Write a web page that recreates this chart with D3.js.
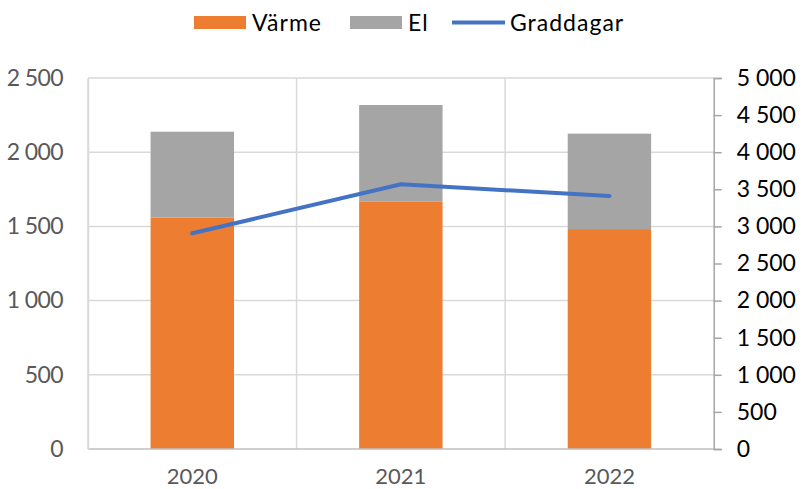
<!DOCTYPE html>
<html>
<head>
<meta charset="utf-8">
<script src="https://cdn.jsdelivr.net/npm/d3@7"></script>
<style>
  body { margin: 0; background: #fff; }
  text { font-family: Lato, "Open Sans", sans-serif; }
</style>
</head>
<body>
<div class="vis"></div>
<script>
// chart data
var years = ["2020", "2021", "2022"];
var varme = [1559, 1669, 1482];
var el = [579, 649, 643];
var graddagar = [2907, 3567, 3410];

var leftTicks = [0, 500, 1000, 1500, 2000, 2500];
var rightTicks = [0, 500, 1000, 1500, 2000, 2500, 3000, 3500, 4000, 4500, 5000];

// svg
var width = 802, height = 489;
var svg = d3.select(".vis").append("svg")
	.attr("width", width)
	.attr("height", height);

var plot = { left: 88, right: 713.7, top: 78, bottom: 449 };

var x = d3.scaleBand()
	.domain(years)
	.range([plot.left, plot.right])
	.padding(0);

var yLeft = d3.scaleLinear().domain([0, 2500]).range([plot.bottom, plot.top]);
var yRight = d3.scaleLinear().domain([0, 5000]).range([plot.bottom, plot.top]);

var fmt = function(v) { return d3.format(",")(v).replace(/,/g, " "); };

// gridlines
svg.append("g").selectAll("line")
	.data(leftTicks.slice(1))
	.enter().append("line")
	.attr("x1", plot.left).attr("x2", plot.right)
	.attr("y1", function(d) { return yLeft(d); })
	.attr("y2", function(d) { return yLeft(d); })
	.attr("stroke", "#d9d9d9").attr("stroke-width", 1.5);

svg.append("g").selectAll("line")
	.data(years)
	.enter().append("line")
	.attr("x1", function(d) { return x(d); })
	.attr("x2", function(d) { return x(d); })
	.attr("y1", plot.top).attr("y2", plot.bottom)
	.attr("stroke", "#d9d9d9").attr("stroke-width", 1.5);

// bars
var barW = x.bandwidth() * 0.4;
var bars = svg.append("g");
bars.selectAll(".heat")
	.data(years)
	.enter().append("rect")
	.attr("x", function(d) { return x(d) + (x.bandwidth() - barW) / 2; })
	.attr("width", barW)
	.attr("y", function(d, i) { return yLeft(varme[i]); })
	.attr("height", function(d, i) { return yLeft(0) - yLeft(varme[i]); })
	.attr("fill", "#ed7d31");

bars.selectAll(".el")
	.data(years)
	.enter().append("rect")
	.attr("x", function(d) { return x(d) + (x.bandwidth() - barW) / 2; })
	.attr("width", barW)
	.attr("y", function(d, i) { return yLeft(varme[i] + el[i]); })
	.attr("height", function(d, i) { return yLeft(varme[i]) - yLeft(varme[i] + el[i]); })
	.attr("fill", "#a5a5a5");

// bottom axis line
svg.append("line")
	.attr("x1", plot.left).attr("x2", plot.right)
	.attr("y1", plot.bottom).attr("y2", plot.bottom)
	.attr("stroke", "#bfbfbf").attr("stroke-width", 1.5);

// right axis
var rightAxis = d3.axisRight(yRight)
	.tickValues(rightTicks)
	.tickSize(8)
	.tickPadding(15)
	.tickFormat(fmt);
var ra = svg.append("g")
	.attr("transform", "translate(" + plot.right + ",0)")
	.call(rightAxis);
ra.select(".domain").attr("stroke", "#a6a6a6").attr("stroke-width", 1.5);
ra.selectAll(".tick line").attr("stroke", "#a6a6a6").attr("stroke-width", 1.5);
ra.selectAll(".tick text")
	.attr("font-size", 23).attr("fill", "#000")
	.style("font-family", "Lato, 'Open Sans', sans-serif");

// left axis labels
var leftAxis = d3.axisLeft(yLeft)
	.tickValues(leftTicks)
	.tickSize(0)
	.tickPadding(25)
	.tickFormat(fmt);
var la = svg.append("g")
	.attr("transform", "translate(" + plot.left + ",0)")
	.call(leftAxis);
la.select(".domain").attr("stroke", "#d9d9d9").attr("stroke-width", 1.5);
la.selectAll(".tick text")
	.attr("font-size", 23).attr("fill", "#595959")
	.attr("letter-spacing", -0.6)
	.style("font-family", "Lato, 'Open Sans', sans-serif");

// category labels
svg.append("g").selectAll("text")
	.data(years)
	.enter().append("text")
	.attr("x", function(d) { return x(d) + x.bandwidth() / 2; })
	.attr("y", 484)
	.attr("text-anchor", "middle")
	.attr("font-size", 22)
	.attr("fill", "#595959")
	.text(function(d) { return d; });

// line
var line = d3.line()
	.x(function(d, i) { return x(years[i]) + x.bandwidth() / 2; })
	.y(function(d) { return yRight(d); });
svg.append("path")
	.datum(graddagar)
	.attr("d", line)
	.attr("fill", "none")
	.attr("stroke", "#4472c4")
	.attr("stroke-width", 4)
	.attr("stroke-linecap", "round");

// legend
var legend = svg.append("g").attr("font-size", 23).attr("fill", "#000").attr("letter-spacing", 1);
legend.append("rect").attr("x", 194).attr("y", 16).attr("width", 52).attr("height", 13).attr("fill", "#ed7d31");
legend.append("text").attr("x", 252).attr("y", 31).text("Värme");
legend.append("rect").attr("x", 350).attr("y", 16).attr("width", 52).attr("height", 13).attr("fill", "#a5a5a5");
legend.append("text").attr("x", 408).attr("y", 31).text("El");
legend.append("line").attr("x1", 452).attr("x2", 505).attr("y1", 22.5).attr("y2", 22.5)
	.attr("stroke", "#4472c4").attr("stroke-width", 4);
legend.append("text").attr("x", 510).attr("y", 31).text("Graddagar");
</script>
</body>
</html>
